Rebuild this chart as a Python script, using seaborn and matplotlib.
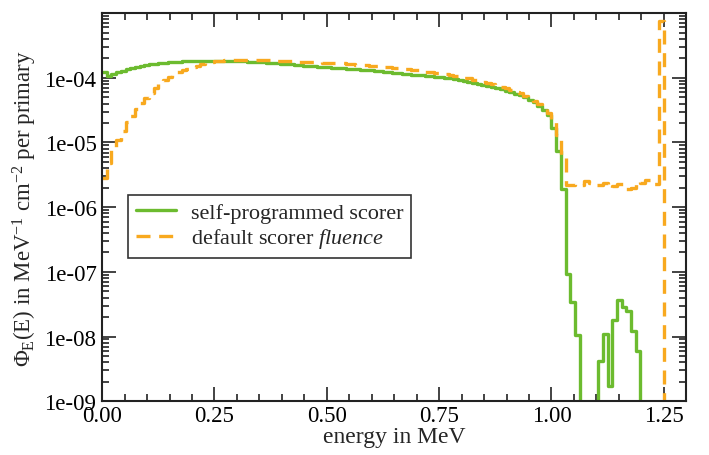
"""Spectrum of the fluence per energy bin: self-programmed scorer vs default scorer."""
import numpy as np
import pandas as pd
import matplotlib
matplotlib.use('Agg')
import matplotlib.pyplot as plt
from matplotlib.ticker import LogLocator, FixedLocator, MultipleLocator, FuncFormatter, NullFormatter
import seaborn as sns

# 120 bins between 0 and 1.25 MeV
n_bins = 120
e_max = 1.25

# self-programmed scorer, one value per bin (0 = no entries)
self_scorer = [
    1.22e-4, 1.08e-4, 1.15e-4, 1.22e-4, 1.29e-4, 1.36e-4, 1.43e-4, 1.49e-4, 1.54e-4, 1.58e-4,
    1.62e-4, 1.65e-4, 1.68e-4, 1.71e-4, 1.73e-4, 1.75e-4, 1.77e-4, 1.79e-4, 1.81e-4, 1.82e-4,
    1.83e-4, 1.84e-4, 1.85e-4, 1.85e-4, 1.85e-4, 1.85e-4, 1.84e-4, 1.83e-4, 1.82e-4, 1.81e-4,
    1.79e-4, 1.78e-4, 1.76e-4, 1.75e-4, 1.73e-4, 1.71e-4, 1.69e-4, 1.67e-4, 1.65e-4, 1.63e-4,
    1.61e-4, 1.59e-4, 1.57e-4, 1.55e-4, 1.53e-4, 1.51e-4, 1.49e-4, 1.47e-4, 1.45e-4, 1.43e-4,
    1.42e-4, 1.40e-4, 1.39e-4, 1.37e-4, 1.36e-4, 1.34e-4, 1.32e-4, 1.30e-4, 1.28e-4, 1.26e-4,
    1.24e-4, 1.21e-4, 1.19e-4, 1.17e-4, 1.15e-4, 1.14e-4, 1.12e-4, 1.10e-4, 1.09e-4, 1.07e-4,
    1.06e-4, 1.04e-4, 1.02e-4, 1.00e-4, 9.8e-5, 9.6e-5, 9.3e-5, 9.0e-5, 8.7e-5, 8.4e-5,
    8.1e-5, 7.8e-5, 7.5e-5, 7.2e-5, 6.9e-5, 6.6e-5, 6.3e-5, 6.0e-5, 5.7e-5, 5.4e-5,
    5.0e-5, 4.6e-5, 4.2e-5, 3.7e-5, 3.2e-5, 2.7e-5, 1.7e-5, 7.5e-6, 1.9e-6, 9.3e-8,
    3.4e-8, 1.05e-8, 0.0, 0.0, 0.0, 0.0, 4.2e-9, 1.1e-8, 1.7e-9, 1.8e-8,
    3.7e-8, 2.9e-8, 2.5e-8, 1.2e-8, 6.0e-9, 0.0, 0.0, 0.0, 0.0, 0.0,
]

# default scorer "fluence"
default_scorer = [
    2.8e-6, 4.8e-6, 8.0e-6, 1.1e-5, 1.5e-5, 2.1e-5, 2.6e-5, 3.3e-5, 4.1e-5, 4.9e-5,
    5.9e-5, 7.0e-5, 8.0e-5, 9.4e-5, 1.04e-4, 1.14e-4, 1.23e-4, 1.31e-4, 1.39e-4, 1.48e-4,
    1.55e-4, 1.62e-4, 1.70e-4, 1.76e-4, 1.80e-4, 1.84e-4, 1.87e-4, 1.89e-4, 1.90e-4, 1.91e-4,
    1.91e-4, 1.90e-4, 1.91e-4, 1.89e-4, 1.88e-4, 1.89e-4, 1.86e-4, 1.85e-4, 1.83e-4, 1.82e-4,
    1.80e-4, 1.79e-4, 1.78e-4, 1.77e-4, 1.75e-4, 1.76e-4, 1.73e-4, 1.72e-4, 1.72e-4, 1.70e-4,
    1.68e-4, 1.67e-4, 1.64e-4, 1.63e-4, 1.60e-4, 1.58e-4, 1.57e-4, 1.55e-4, 1.52e-4, 1.50e-4,
    1.48e-4, 1.45e-4, 1.43e-4, 1.40e-4, 1.38e-4, 1.35e-4, 1.32e-4, 1.30e-4, 1.27e-4, 1.24e-4,
    1.22e-4, 1.19e-4, 1.16e-4, 1.14e-4, 1.11e-4, 1.08e-4, 1.05e-4, 1.01e-4, 9.8e-5, 9.4e-5,
    9.0e-5, 8.7e-5, 8.3e-5, 7.9e-5, 7.6e-5, 7.3e-5, 6.9e-5, 6.5e-5, 6.1e-5, 5.8e-5,
    5.3e-5, 4.9e-5, 4.4e-5, 3.9e-5, 3.4e-5, 2.9e-5, 2.1e-5, 1.3e-5, 5.8e-6, 2.2e-6,
    2.2e-6, 2.3e-6, 2.2e-6, 2.5e-6, 2.4e-6, 2.2e-6, 2.2e-6, 2.4e-6, 2.0e-6, 2.1e-6,
    2.3e-6, 2.3e-6, 1.9e-6, 2.0e-6, 2.5e-6, 2.4e-6, 2.6e-6, 2.4e-6, 2.3e-6, 7.5e-4,
]

labels = ['self-programmed scorer', r'default scorer $\it{fluence}$']
colors = ['#6cbb2f', '#f8a91f']
y_ticks = [1e-9, 1e-8, 1e-7, 1e-6, 1e-5, 1e-4]


def main():
    sns.set_style('ticks')
    plt.rcParams['font.family'] = ['Liberation Serif', 'DejaVu Serif']
    plt.rcParams['mathtext.fontset'] = 'custom'
    plt.rcParams['mathtext.rm'] = 'Liberation Serif'
    plt.rcParams['mathtext.it'] = 'Liberation Serif:italic'
    plt.rcParams['mathtext.bf'] = 'Liberation Serif:bold'

    edges = np.arange(n_bins + 1) * (e_max / n_bins)
    # steps-post: value of bin i starts at edge i, final 0 closes the last bin
    df = pd.DataFrame({
        'energy': np.concatenate([edges, edges]),
        'value': self_scorer + [0.0] + default_scorer + [0.0],
        'scorer': [labels[0]] * (n_bins + 1) + [labels[1]] * (n_bins + 1),
    })

    fig = plt.figure(figsize=(7.09, 4.56), dpi=100)
    ax = fig.add_axes([0.144, 0.118, 0.824, 0.851])

    sns.lineplot(data=df[df.scorer == labels[0]], x='energy', y='value',
                 estimator=None, sort=False, drawstyle='steps-post',
                 color=colors[0], lw=2.4, label=labels[0], ax=ax)
    sns.lineplot(data=df[df.scorer == labels[1]], x='energy', y='value',
                 estimator=None, sort=False, drawstyle='steps-post',
                 color=colors[1], lw=2.4, linestyle=(0, (4.2, 2.6)),
                 label=labels[1], ax=ax)

    ax.set_yscale('log', nonpositive='clip')
    ax.set_xlim(0, 1.3)
    ax.set_ylim(1e-9, 1e-3)

    ax.xaxis.set_major_locator(MultipleLocator(0.25))
    ax.xaxis.set_minor_locator(MultipleLocator(0.05))
    ax.xaxis.set_major_formatter(FuncFormatter(lambda v, p: f'{v:.2f}'))
    ax.yaxis.set_major_locator(FixedLocator(y_ticks + [1e-3]))
    ax.yaxis.set_minor_locator(LogLocator(base=10, subs=np.arange(2, 10)))
    ax.yaxis.set_major_formatter(
        FuncFormatter(lambda v, p: '' if v > 5e-4 else f'{v:.0e}'))
    ax.yaxis.set_minor_formatter(NullFormatter())

    ax.tick_params(which='both', direction='in', top=True, right=True,
                   width=1.2, colors='#222222', labelcolor='black', labelsize=16.5)
    ax.tick_params(which='major', length=10)
    ax.tick_params(which='minor', length=5)
    ax.tick_params(axis='x', which='major', pad=3)
    ax.tick_params(axis='y', which='major', pad=4)
    for sp in ax.spines.values():
        sp.set_linewidth(1.5)
        sp.set_color('#222222')

    ax.set_xlabel('energy in MeV', fontsize=17, labelpad=0)
    ax.set_ylabel(r'Φ$_\mathrm{E}$(E) in MeV$^{-1}$ cm$^{-2}$ per primary',
                  fontsize=16.5, labelpad=4)

    leg = ax.legend(loc='upper left', bbox_to_anchor=(0.044, 0.532), fontsize=16,
                    frameon=True, fancybox=False, handlelength=1.8,
                    borderpad=0.35, labelspacing=0.15, handletextpad=0.7,
                    borderaxespad=0)
    leg.get_frame().set_edgecolor('black')
    leg.get_frame().set_linewidth(1.2)

    fig.savefig('out.png', dpi=100)
    plt.close(fig)


if __name__ == '__main__':
    main()
